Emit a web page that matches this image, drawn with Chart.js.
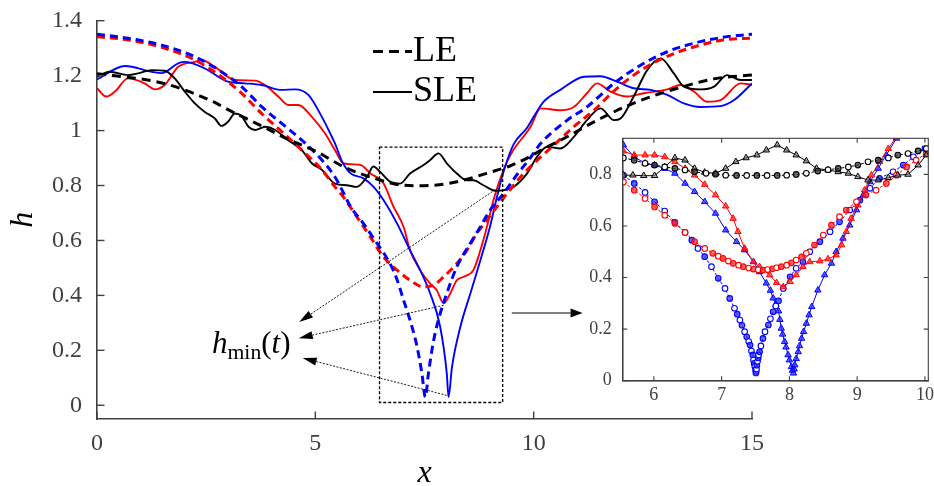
<!DOCTYPE html>
<html><head><meta charset="utf-8">
<script src="https://cdn.jsdelivr.net/npm/chart.js"></script>
<style>
html,body{margin:0;padding:0;background:#fff;}
#wrap{position:relative;width:934px;height:486px;overflow:hidden;background:#fff;}
#main{position:absolute;left:0;top:0;}
#inset{position:absolute;left:560px;top:120px;}
.lbl{position:absolute;font-family:'Liberation Serif','Tinos','Times New Roman','Times','DejaVu Serif','Noto Serif','FreeSerif',serif;color:#000;white-space:nowrap;line-height:1;}
.ldash{position:absolute;left:373px;top:50px;width:39px;height:3px;background:repeating-linear-gradient(90deg,#000 0 10px,transparent 10px 16px);}
.lsolid{position:absolute;left:373px;top:90.5px;width:39px;height:2px;background:#000;}
</style></head>
<body><div id="wrap">
<canvas id="main" width="934" height="486"></canvas>
<canvas id="inset" width="374" height="292"></canvas>
<div class="ldash"></div><div class="lsolid"></div>
<div class="lbl" style="left:413px;top:31px;font-size:36px;">LE</div>
<div class="lbl" style="left:413px;top:70.5px;font-size:36px;">SLE</div>
<div class="lbl" style="left:212px;top:327px;font-size:31px;"><i>h</i><span style="font-size:0.7em;position:relative;top:0.28em;">min</span>(<i>t</i>)</div>
</div>
<script>
// ---------- tick values / labels ----------
const xTicks=[0,5,10,15], xTickLabels=['0','5','10','15'];
const yTicks=[0,0.2,0.4,0.6,0.8,1,1.2,1.4], yTickLabels=['0','0.2','0.4','0.6','0.8','1','1.2','1.4'];
const insetXTicks=[6,7,8,9,10], insetXTickLabels=['6','7','8','9','10'];
const insetYTicks=[0,0.2,0.4,0.6,0.8], insetYTickLabels=['0','0.2','0.4','0.6','0.8'];

// ---------- main panel series ----------
const blackLE_x=[0,1.36,1.9,2.66,3.1,3.73,4.34,5.03,5.6,6.0,6.48,6.87,7.3,7.63,8.0,8.4,9.0,9.47,9.85,10.3,10.69,11.53,12.37,13.29,14.2,15];
const blackLE_h=[1.207,1.178,1.154,1.105,1.068,1.02,0.971,0.923,0.872,0.845,0.82,0.804,0.799,0.8,0.806,0.82,0.848,0.872,0.9,0.94,0.971,1.044,1.105,1.154,1.19,1.202];

const blueLE_x=[0,0.71,1.48,2.24,2.85,3.31,3.77,4.23,4.69,5.15,5.45,5.64,5.8,6.1,6.41,6.71,6.87,7.02,7.17,7.33,7.44,7.52,7.59,7.71,7.86,8.01,8.24,8.55,8.78,9.0,9.31,9.62,9.92,10.16,10.77,11.22,11.84,12.45,13.06,13.67,14.43,15];
const blueLE_h=[1.351,1.336,1.311,1.269,1.214,1.16,1.087,1.026,0.965,0.893,0.831,0.775,0.725,0.662,0.59,0.516,0.458,0.383,0.309,0.213,0.116,0.03,0.116,0.237,0.334,0.407,0.504,0.59,0.65,0.71,0.771,0.84,0.9,0.953,1.038,1.086,1.172,1.238,1.287,1.318,1.342,1.351];

const redLE_x=[0,0.71,1.48,2.24,2.85,3.31,3.77,4.23,4.69,5.15,5.45,5.64,5.95,6.26,6.56,6.87,7.17,7.48,7.71,7.94,8.24,8.47,8.7,8.93,9.16,9.39,9.7,9.92,10.38,10.92,11.38,11.91,12.52,13.13,13.74,14.43,15];
const redLE_h=[1.342,1.33,1.303,1.257,1.196,1.136,1.062,0.996,0.929,0.857,0.795,0.759,0.686,0.613,0.54,0.492,0.455,0.431,0.437,0.468,0.516,0.564,0.626,0.674,0.723,0.771,0.831,0.868,0.935,1.014,1.074,1.154,1.226,1.275,1.308,1.332,1.336];

const blackSLE_x=[0,0.29,0.71,0.94,1.25,1.55,1.78,2.01,2.24,2.47,2.7,2.85,3.0,3.16,3.31,3.47,3.62,3.85,4.08,4.38,4.69,4.92,5.15,5.45,5.72,5.95,6.18,6.33,6.48,6.71,6.94,7.17,7.48,7.63,7.82,8.01,8.24,8.47,8.62,8.85,9.12,9.31,9.54,9.85,10.08,10.31,10.61,10.92,11.22,11.53,11.84,11.99,12.29,12.6,12.91,13.21,13.44,13.82,14.13,14.43,14.74,15];
const blackSLE_h=[1.196,1.214,1.202,1.208,1.22,1.218,1.19,1.142,1.099,1.068,1.044,1.017,1.032,1.062,1.053,1.014,1.002,1.014,1.002,0.965,0.929,0.881,0.857,0.807,0.801,0.795,0.831,0.869,0.85,0.814,0.807,0.844,0.875,0.893,0.917,0.881,0.844,0.819,0.819,0.801,0.781,0.783,0.795,0.844,0.905,0.941,0.935,0.977,1.038,1.081,1.038,1.044,1.124,1.22,1.263,1.208,1.16,1.15,1.16,1.202,1.184,1.184];

const blueSLE_x=[0,0.64,1.25,1.48,1.86,2.01,2.47,3.0,3.39,3.77,4.23,4.53,4.84,5.15,5.34,5.45,5.62,5.8,6.1,6.33,6.56,6.87,7.17,7.4,7.63,7.86,8.01,8.05,8.13,8.32,8.55,8.78,9.0,9.16,9.31,9.54,9.85,10.0,10.23,10.61,11.15,11.53,11.91,12.29,12.68,13.06,13.44,13.82,14.28,14.59,15];
const blueSLE_h=[1.186,1.235,1.214,1.209,1.245,1.25,1.226,1.178,1.172,1.166,1.148,1.15,1.13,1.05,0.99,0.953,0.885,0.845,0.826,0.796,0.747,0.662,0.564,0.492,0.407,0.285,0.116,0.03,0.14,0.285,0.407,0.528,0.65,0.759,0.85,0.95,1.01,1.05,1.105,1.148,1.196,1.198,1.178,1.154,1.148,1.13,1.099,1.086,1.089,1.111,1.172];

const redSLE_x=[0,0.21,0.41,0.71,1.09,1.32,1.55,1.86,2.24,2.39,2.7,3.16,3.62,3.85,4.15,4.38,4.61,4.92,5.22,5.45,5.64,6.03,6.26,6.56,6.79,7.02,7.17,7.4,7.63,7.78,7.94,8.09,8.24,8.4,8.62,8.78,8.93,9.08,9.31,9.5,9.93,10.16,10.61,10.92,11.22,11.45,11.76,12.14,12.52,13.06,13.36,13.67,13.97,14.28,14.74,15];
const redSLE_h=[1.154,1.124,1.142,1.19,1.172,1.15,1.166,1.232,1.25,1.257,1.232,1.184,1.182,1.166,1.124,1.093,1.093,1.05,0.99,0.929,0.881,0.875,0.844,0.808,0.723,0.65,0.564,0.492,0.443,0.419,0.371,0.407,0.455,0.468,0.492,0.564,0.65,0.747,0.857,0.92,1.014,1.081,1.074,1.086,1.136,1.172,1.142,1.124,1.136,1.15,1.166,1.142,1.105,1.111,1.172,1.166];

// ---------- inset series ----------
const inBlackLE_x=[5.55,5.71,5.87,6.01,6.16,6.31,6.46,6.6,6.77,6.91,7.06,7.22,7.37,7.52,7.67,7.82,7.96,8.1,8.25,8.42,8.57,8.72,8.87,9.01,9.16,9.31,9.46,9.6,9.75,9.9,10.02];
const inBlackLE_h=[0.864,0.855,0.843,0.836,0.829,0.823,0.817,0.81,0.804,0.801,0.797,0.796,0.796,0.796,0.796,0.796,0.797,0.8,0.804,0.813,0.818,0.823,0.829,0.836,0.849,0.855,0.864,0.875,0.881,0.891,0.9];

const inBlackSLE_x=[5.55,5.69,5.85,6.01,6.16,6.31,6.46,6.6,6.75,6.91,7.06,7.21,7.36,7.52,7.66,7.82,7.96,8.1,8.25,8.4,8.57,8.72,8.87,9.01,9.16,9.31,9.46,9.6,9.75,9.9,10.02];
const inBlackSLE_h=[0.797,0.797,0.795,0.795,0.829,0.864,0.855,0.823,0.808,0.804,0.823,0.849,0.864,0.875,0.894,0.914,0.894,0.875,0.852,0.823,0.817,0.81,0.804,0.791,0.778,0.778,0.787,0.797,0.8,0.836,0.875];

const inRedLE_x=[5.55,5.71,5.87,6.01,6.16,6.31,6.46,6.6,6.75,6.87,6.95,7.02,7.1,7.17,7.25,7.32,7.4,7.47,7.54,7.61,7.68,7.75,7.81,7.88,7.96,8.03,8.1,8.18,8.25,8.37,8.5,8.62,8.74,8.84,8.99,9.13,9.28,9.43,9.58,9.73,9.87,10.02];
const inRedLE_h=[0.771,0.739,0.707,0.674,0.642,0.61,0.575,0.539,0.513,0.494,0.483,0.474,0.464,0.455,0.448,0.442,0.437,0.433,0.43,0.429,0.431,0.434,0.438,0.442,0.448,0.457,0.468,0.48,0.494,0.526,0.565,0.603,0.636,0.662,0.694,0.72,0.739,0.765,0.797,0.829,0.855,0.881];

const inRedSLE_x=[5.55,5.71,5.87,6.01,6.16,6.31,6.46,6.6,6.75,6.91,7.06,7.17,7.24,7.34,7.47,7.56,7.71,7.81,7.91,8.01,8.1,8.2,8.3,8.45,8.57,8.69,8.77,8.84,8.91,9.01,9.11,9.21,9.33,9.46,9.58,9.7];
const inRedSLE_h=[0.89,0.875,0.875,0.875,0.868,0.849,0.823,0.797,0.761,0.72,0.677,0.629,0.578,0.513,0.461,0.442,0.41,0.38,0.364,0.384,0.41,0.442,0.461,0.464,0.472,0.487,0.526,0.578,0.629,0.681,0.739,0.797,0.849,0.9,0.946,0.99];

const inBlueLE_x=[5.55,5.71,5.87,6.01,6.16,6.31,6.46,6.56,6.65,6.75,6.85,6.95,7.05,7.12,7.19,7.23,7.27,7.3,7.34,7.37,7.4,7.42,7.44,7.46,7.47,7.48,7.49,7.5,7.505,7.51,7.515,7.52,7.53,7.54,7.545,7.56,7.58,7.61,7.64,7.69,7.72,7.76,7.8,7.84,7.91,8.01,8.1,8.2,8.3,8.45,8.6,8.74,8.89,9.04,9.19,9.33,9.53,9.68,9.83,10.0];
const inBlueLE_h=[0.797,0.765,0.73,0.694,0.658,0.614,0.575,0.545,0.513,0.481,0.442,0.397,0.358,0.319,0.281,0.258,0.235,0.215,0.19,0.17,0.152,0.138,0.115,0.1,0.08,0.067,0.055,0.042,0.03,0.036,0.045,0.06,0.075,0.088,0.1,0.112,0.135,0.164,0.19,0.216,0.24,0.267,0.29,0.31,0.358,0.403,0.436,0.461,0.5,0.539,0.578,0.616,0.662,0.7,0.746,0.785,0.81,0.836,0.868,0.9];

const inBlueSLE_x=[5.55,5.71,5.87,6.01,6.16,6.31,6.46,6.6,6.75,6.91,7.06,7.22,7.34,7.47,7.56,7.66,7.72,7.76,7.8,7.84,7.86,7.88,7.9,7.93,7.95,7.98,8.0,8.03,8.045,8.06,8.07,8.08,8.1,8.13,8.15,8.18,8.21,8.25,8.29,8.33,8.42,8.52,8.62,8.69,8.79,8.89,8.99,9.09,9.19,9.31,9.43,9.58,9.7];
const inBlueSLE_h=[0.914,0.868,0.843,0.836,0.823,0.804,0.765,0.733,0.694,0.649,0.584,0.539,0.507,0.461,0.422,0.378,0.35,0.32,0.295,0.27,0.237,0.203,0.18,0.151,0.13,0.1,0.08,0.054,0.04,0.029,0.045,0.061,0.085,0.112,0.135,0.164,0.19,0.222,0.255,0.287,0.351,0.41,0.455,0.5,0.552,0.603,0.662,0.72,0.771,0.823,0.875,0.94,0.99];

// ---------- annotation anchors (data coordinates of main panel) ----------
const zoomRect={x0:6.47,x1:9.29,y0:0.01,y1:0.94};
const hminArrows=[{from:[9.12,0.785],to:[4.63,0.303]},{from:[7.94,0.364],to:[4.62,0.244]},{from:[8.01,0.036],to:[4.71,0.172]}];
const insetArrow={from:[9.5,0.336],to:[11.12,0.336]};

const BLACK='#000000', RED='#ff0000', BLUE='#0000ff', AXIS='#404040';
const FILLS={'#000000':'rgba(60,60,60,0.75)','#ff0000':'rgba(255,40,40,0.7)','#0000ff':'rgba(40,40,255,0.7)'};
const SERIF="'Liberation Serif','Tinos','Times New Roman','Times','DejaVu Serif','Noto Serif','FreeSerif',serif";

function pts(xs,hs){return xs.map((x,i)=>({x:x,y:hs[i]}));}
function noPad(s){s.paddingTop=0;s.paddingBottom=0;s.paddingLeft=0;s.paddingRight=0;}

function mainLE(xs,hs,c){return {data:pts(xs,hs),borderColor:c,borderWidth:3,borderDash:c===BLACK?[9,6]:[8,5],pointRadius:0,cubicInterpolationMode:'monotone',fill:false};}
function mainSLE(xs,hs,c){return {data:pts(xs,hs),borderColor:c,borderWidth:1.9,pointRadius:0,cubicInterpolationMode:'monotone',fill:false};}

function arrow(ctx,x0,y0,x1,y1,dash,len,wid){
  const a=Math.atan2(y1-y0,x1-x0);
  const bx=x1-Math.cos(a)*len, by=y1-Math.sin(a)*len;
  ctx.save();ctx.setLineDash(dash);ctx.beginPath();ctx.moveTo(x0,y0);ctx.lineTo(bx,by);ctx.stroke();
  ctx.setLineDash([]);ctx.beginPath();ctx.moveTo(x1,y1);
  ctx.lineTo(bx+Math.sin(a)*wid/2,by-Math.cos(a)*wid/2);
  ctx.lineTo(bx-Math.sin(a)*wid/2,by+Math.cos(a)*wid/2);
  ctx.closePath();ctx.fill();ctx.restore();
}

const mainDecor={id:'mainDecor',afterDraw(chart){
  const {ctx,chartArea:a,scales:{x,y}}=chart;
  ctx.save();
  ctx.strokeStyle=AXIS;ctx.lineWidth=1.4;
  x.ticks.forEach(t=>{const p=x.getPixelForValue(t.value);ctx.beginPath();ctx.moveTo(p,a.bottom);ctx.lineTo(p,a.bottom-7.5);ctx.stroke();});
  y.ticks.forEach(t=>{const p=y.getPixelForValue(t.value);ctx.beginPath();ctx.moveTo(a.left,p);ctx.lineTo(a.left+7.5,p);ctx.stroke();});
  ctx.strokeStyle='#000';ctx.lineWidth=1.3;ctx.setLineDash([3,2]);
  const rx0=x.getPixelForValue(zoomRect.x0),rx1=x.getPixelForValue(zoomRect.x1),ry0=y.getPixelForValue(zoomRect.y0),ry1=y.getPixelForValue(zoomRect.y1);
  ctx.strokeRect(rx0,ry1,rx1-rx0,ry0-ry1);
  ctx.setLineDash([]);
  ctx.fillStyle='#000';ctx.lineWidth=0.9;
  hminArrows.forEach(ar=>{arrow(ctx,x.getPixelForValue(ar.from[0]),y.getPixelForValue(ar.from[1]),x.getPixelForValue(ar.to[0]),y.getPixelForValue(ar.to[1]),[2,1.5],14,8);});
  ctx.lineWidth=1.1;
  arrow(ctx,x.getPixelForValue(insetArrow.from[0]),y.getPixelForValue(insetArrow.from[1]),x.getPixelForValue(insetArrow.to[0]),y.getPixelForValue(insetArrow.to[1]),[],12,9);
  ctx.restore();
}};

new Chart(document.getElementById('main'),{
  type:'line',
  data:{datasets:[
    mainLE(blackLE_x,blackLE_h,BLACK),
    mainLE(blueLE_x,blueLE_h,BLUE),
    mainLE(redLE_x,redLE_h,RED),
    mainSLE(blackSLE_x,blackSLE_h,BLACK),
    mainSLE(blueSLE_x,blueSLE_h,BLUE),
    mainSLE(redSLE_x,redSLE_h,RED)
  ]},
  options:{
    responsive:false,animation:false,devicePixelRatio:1,
    layout:{autoPadding:false,padding:{top:20.7,right:182,left:0,bottom:0}},
    plugins:{legend:{display:false},tooltip:{enabled:false}},
    scales:{
      x:{type:'linear',min:0,max:15,
        afterBuildTicks:s=>{s.ticks=xTicks.map(v=>({value:v}));},
        afterFit:s=>{s.height=67;noPad(s);},
        grid:{display:false,drawTicks:false},
        border:{display:true,color:AXIS,width:1.6},
        ticks:{font:{family:SERIF,size:24},color:AXIS,padding:10,maxRotation:0,callback:v=>xTickLabels[xTicks.indexOf(v)]},
        title:{display:true,text:'x',color:'#000',font:{family:SERIF,size:32,style:'italic'},padding:{top:0,bottom:-7}}
      },
      y:{type:'linear',min:-0.05,max:1.4,
        afterBuildTicks:s=>{s.ticks=yTicks.map(v=>({value:v}));},
        afterFit:s=>{s.width=97;noPad(s);},
        grid:{display:false,drawTicks:false},
        border:{display:true,color:AXIS,width:1.6},
        ticks:{font:{family:SERIF,size:24},color:AXIS,padding:15,callback:v=>yTickLabels[yTicks.indexOf(v)]},
        title:{display:true,text:'h',color:'#000',font:{family:SERIF,size:32,style:'italic'},padding:{top:4,bottom:0}}
      }
    }
  },
  plugins:[mainDecor]
});

// ---------- inset ----------
function altFill(n,c){return Array.from({length:n},(_,i)=>i%2?FILLS[c]:'#ffffff');}
function inLE(xs,hs,c){return {data:pts(xs,hs),borderColor:c,borderWidth:1,borderDash:[3,2],pointStyle:'circle',pointRadius:2.8,pointBorderWidth:1.1,pointBorderColor:c,pointBackgroundColor:altFill(xs.length,c),tension:0,fill:false};}
function inSLE(xs,hs,c){return {data:pts(xs,hs),borderColor:c,borderWidth:1,pointStyle:'triangle',pointRadius:3.7,pointBorderWidth:1,pointBorderColor:c,pointBackgroundColor:c===BLACK?'rgba(120,120,120,0.55)':FILLS[c],tension:0,fill:false};}

const insetDecor={id:'insetDecor',afterDraw(chart){
  const {ctx,chartArea:a,scales:{x,y}}=chart;
  ctx.save();ctx.strokeStyle=AXIS;ctx.lineWidth=1.1;
  ctx.strokeRect(a.left,a.top,a.right-a.left,a.bottom-a.top);
  x.ticks.forEach(t=>{const p=x.getPixelForValue(t.value);ctx.beginPath();ctx.moveTo(p,a.bottom);ctx.lineTo(p,a.bottom-4.5);ctx.moveTo(p,a.top);ctx.lineTo(p,a.top+4.5);ctx.stroke();});
  y.ticks.forEach(t=>{const p=y.getPixelForValue(t.value);ctx.beginPath();ctx.moveTo(a.left,p);ctx.lineTo(a.left+4.5,p);ctx.moveTo(a.right,p);ctx.lineTo(a.right-4.5,p);ctx.stroke();});
  ctx.restore();
}};

new Chart(document.getElementById('inset'),{
  type:'line',
  data:{datasets:[
    inLE(inBlackLE_x,inBlackLE_h,BLACK),
    inSLE(inBlackSLE_x,inBlackSLE_h,BLACK),
    inLE(inRedLE_x,inRedLE_h,RED),
    inSLE(inRedSLE_x,inRedSLE_h,RED),
    inLE(inBlueLE_x,inBlueLE_h,BLUE),
    inSLE(inBlueSLE_x,inBlueSLE_h,BLUE)
  ]},
  options:{
    responsive:false,animation:false,devicePixelRatio:1,
    layout:{autoPadding:false,padding:{top:18.3,right:5.7,left:0,bottom:0}},
    plugins:{legend:{display:false},tooltip:{enabled:false}},
    scales:{
      x:{type:'linear',min:5.54,max:10.05,
        afterBuildTicks:s=>{s.ticks=insetXTicks.map(v=>({value:v}));},
        afterFit:s=>{s.height=31.3;noPad(s);},
        grid:{display:false,drawTicks:false},
        border:{display:true,color:AXIS,width:1.4},
        ticks:{font:{family:SERIF,size:18},color:AXIS,padding:4,maxRotation:0,callback:v=>insetXTickLabels[insetXTicks.indexOf(v)]}
      },
      y:{type:'linear',min:0,max:0.94,
        afterBuildTicks:s=>{s.ticks=insetYTicks.map(v=>({value:v}));},
        afterFit:s=>{s.width=62.7;noPad(s);},
        grid:{display:false,drawTicks:false},
        border:{display:true,color:AXIS,width:1.4},
        ticks:{font:{family:SERIF,size:18},color:AXIS,padding:11,callback:v=>insetYTickLabels[insetYTicks.indexOf(v)]}
      }
    }
  },
  plugins:[insetDecor]
});
</script>
</body></html>
